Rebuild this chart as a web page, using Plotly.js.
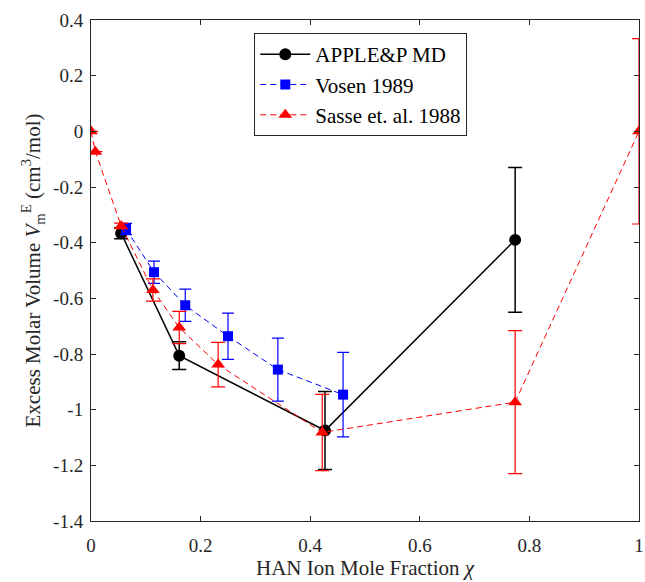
<!DOCTYPE html>
<html>
<head>
<meta charset="utf-8">
<script src="https://cdn.plot.ly/plotly-3.0.1.min.js"></script>
<style>html,body{margin:0;padding:0;background:#fff;}#chart{width:645px;height:582px;}</style>
</head>
<body>
<div id="chart"></div>
<script>
// APPLE&P MD
var appleX = [0.055, 0.161, 0.427, 0.774];
var appleY = [-0.366, -0.806, -1.075, -0.390];
var appleErr = [0.02, 0.05, 0.14, 0.26];
// Vosen 1989
var vosenX = [0.064, 0.115, 0.172, 0.250, 0.341, 0.460];
var vosenY = [-0.351, -0.506, -0.625, -0.736, -0.856, -0.946];
var vosenErr = [0.02, 0.04, 0.058, 0.083, 0.113, 0.152];
// Sasse et. al. 1988
var sasseX = [0.0, 0.008, 0.055, 0.113, 0.161, 0.232, 0.422, 0.774, 1.0];
var sasseY = [0.0, -0.073, -0.340, -0.570, -0.705, -0.838, -1.082, -0.973, 0.0];
var sasseErr = [0.0, 0.0, 0.01, 0.04, 0.058, 0.08, 0.137, 0.257, 0.333];
// ticks
var xTicks = [0, 0.2, 0.4, 0.6, 0.8, 1];
var xTickText = ['0', '0.2', '0.4', '0.6', '0.8', '1'];
var yTicks = [0.4, 0.2, 0, -0.2, -0.4, -0.6, -0.8, -1, -1.2, -1.4];
var yTickText = ['0.4', '0.2', '0', '-0.2', '-0.4', '-0.6', '-0.8', '-1', '-1.2', '-1.4'];

var font = 'Times New Roman';

var traces = [
  {
    x: appleX, y: appleY, name: 'APPLE&amp;P MD', type: 'scatter', mode: 'lines+markers',
    line: {color: '#000000', width: 1.5},
    marker: {color: '#000000', symbol: 'circle', size: 12},
    error_y: {type: 'data', array: appleErr, visible: true, color: '#000000', thickness: 1.5, width: 7}
  },
  {
    x: vosenX, y: vosenY, name: 'Vosen 1989', type: 'scatter', mode: 'lines+markers',
    line: {color: '#0000ff', width: 1, dash: '6px,4px'},
    marker: {color: '#0000ff', symbol: 'square', size: 10},
    error_y: {type: 'data', array: vosenErr, visible: true, color: '#0000ff', thickness: 1.2, width: 6}
  },
  {
    x: sasseX, y: sasseY, name: 'Sasse et. al. 1988', type: 'scatter', mode: 'lines+markers',
    line: {color: '#ff0000', width: 1, dash: '6px,4px'},
    marker: {color: '#ff0000', symbol: 'triangle-up', size: 12},
    error_y: {type: 'data', array: sasseErr, visible: true, color: '#ff0000', thickness: 1.2, width: 7}
  }
];

var axisCommon = {
  showgrid: false, zeroline: false, showline: true, mirror: 'ticks',
  linecolor: '#262626', linewidth: 1, ticks: 'inside', ticklen: 5, tickcolor: '#262626',
  tickfont: {family: font, size: 19, color: '#262626'}
};

var layout = {
  width: 645, height: 582,
  margin: {l: 91, r: 6, t: 20, b: 61},
  paper_bgcolor: '#ffffff', plot_bgcolor: '#ffffff',
  font: {family: font},
  showlegend: true,
  legend: {
    x: 0.298, y: 0.974, xanchor: 'left', yanchor: 'top',
    bgcolor: '#ffffff', bordercolor: '#262626', borderwidth: 1,
    font: {family: font, size: 21, color: '#000000'},
    tracegroupgap: 0, itemwidth: 50
  },
  xaxis: Object.assign({}, axisCommon, {
    range: [0, 1], tickvals: xTicks, ticktext: xTickText, ticklabelstandoff: 7,
    title: {text: 'HAN Ion Mole Fraction <i>χ</i>', font: {family: font, size: 21, color: '#262626'}, standoff: 2}
  }),
  yaxis: Object.assign({}, axisCommon, {
    range: [-1.4, 0.4], tickvals: yTicks, ticktext: yTickText, ticklabelstandoff: 3,
    title: {text: 'Excess Molar Volume <i>V</i><sub>m</sub><sup>E</sup> (cm<sup>3</sup>/mol)', font: {family: font, size: 21, color: '#262626'}, standoff: 6}
  })
};

Plotly.newPlot('chart', traces, layout, {displayModeBar: false, staticPlot: true});
</script>
</body>
</html>
